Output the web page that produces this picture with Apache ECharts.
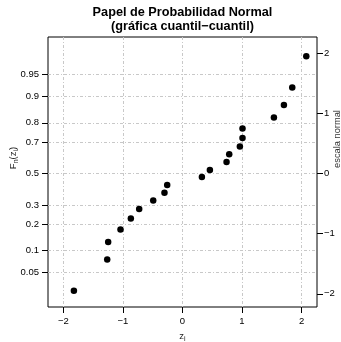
<!DOCTYPE html>
<html><head><meta charset="utf-8">
<script src="https://cdn.jsdelivr.net/npm/echarts@6/dist/echarts.min.js"></script>
<style>html,body{margin:0;padding:0;background:#fff}#c{width:341px;height:342px}</style>
</head><body><div id="c"></div>
<script>
const zValues = [-1.825, -1.265, -1.249, -1.042, -0.868, -0.728, -0.492, -0.303, -0.257, 0.326,
                 0.46, 0.74, 0.785, 0.964, 1.008, 1.008, 1.536, 1.704, 1.844, 2.08];
const normalScores = [-1.95, -1.43, -1.14, -0.93, -0.75, -0.59, -0.45, -0.32, -0.19, -0.06,
                      0.06, 0.19, 0.32, 0.45, 0.59, 0.75, 0.93, 1.14, 1.43, 1.95];
const probLabels = ['0.05', '0.1', '0.2', '0.3', '0.5', '0.7', '0.8', '0.9', '0.95'];
const probPositions = [-1.645, -1.282, -0.842, -0.524, 0, 0.524, 0.842, 1.282, 1.645];
const xTicks = [-2, -1, 0, 1, 2];
const rightTicks = [-2, -1, 0, 1, 2];

const FONT = "'Liberation Sans', Arial, Helvetica, sans-serif";
const fmtMinus = v => (v < 0 ? '\u2212' + (-v) : String(v));
const gridLine = { show: true, lineStyle: { color: '#c8c8c8', width: 1, type: [3, 2, 1, 2] } };

const chart = echarts.init(document.getElementById('c'), null, { renderer: 'canvas' });
chart.setOption({
  animation: false,
  backgroundColor: '#fff',
  grid: { left: 48, right: 24, top: 37, bottom: 35, show: true, borderColor: '#000', borderWidth: 1, backgroundColor: 'transparent' },
  xAxis: {
    type: 'value', min: -2.26, max: 2.26, position: 'bottom',
    axisLine: { show: false, onZero: false },
    axisTick: { show: true, length: 6, inside: false, customValues: xTicks, lineStyle: { color: '#000' } },
    axisLabel: { customValues: xTicks, formatter: fmtMinus, margin: 9, fontSize: 9.5, color: '#000', fontFamily: FONT },
    splitLine: gridLine
  },
  yAxis: [{
    type: 'value', position: 'left', min: -2.22, max: 2.27,
    axisLine: { show: false, onZero: false },
    axisTick: { show: true, length: 6, customValues: probPositions, lineStyle: { color: '#000' } },
    axisLabel: {
      customValues: probPositions, margin: 9, fontSize: 9.5, color: '#000', fontFamily: FONT,
      formatter: v => {
        let best = 0;
        probPositions.forEach((p, i) => { if (Math.abs(p - v) < Math.abs(probPositions[best] - v)) best = i; });
        return probLabels[best];
      }
    },
    splitLine: gridLine
  }, {
    type: 'value', position: 'right', min: -2.22, max: 2.27,
    axisLine: { show: false, onZero: false },
    axisTick: { show: true, length: 6, customValues: rightTicks, lineStyle: { color: '#000' } },
    axisLabel: { customValues: rightTicks, formatter: fmtMinus, margin: 7, fontSize: 9.5, color: '#000', fontFamily: FONT },
    splitLine: { show: false }
  }],
  series: [{
    type: 'scatter',
    data: zValues.map((z, i) => [z, normalScores[i]]),
    symbol: 'circle', symbolSize: 6.5,
    itemStyle: { color: '#000', opacity: 1 }
  }],
  graphic: [
    { type: 'text', x: 182.5, y: 6, style: { text: 'Papel de Probabilidad Normal', font: 'bold 12.7px ' + FONT, fill: '#000', align: 'center', verticalAlign: 'top' } },
    { type: 'text', x: 182.5, y: 20, style: { text: '(gráfica cuantil\u2212cuantil)', font: 'bold 12.7px ' + FONT, fill: '#000', align: 'center', verticalAlign: 'top' } },
    { type: 'text', x: 13, y: 158, rotation: Math.PI / 2,
      style: {
        text: '{a|F}{s|n}{a|(z}{s|i}{a|)}', align: 'center', verticalAlign: 'middle', fill: '#222',
        rich: {
          a: { fontSize: 9.5, fontFamily: FONT, lineHeight: 14, verticalAlign: 'middle', fill: '#222' },
          s: { fontSize: 7, fontFamily: FONT, lineHeight: 7, verticalAlign: 'bottom', fill: '#222' }
        }
      } },
    { type: 'text', x: 182.5, y: 336,
      style: {
        text: '{a|z}{s|i}', align: 'center', verticalAlign: 'middle', fill: '#222',
        rich: {
          a: { fontSize: 9.5, fontFamily: FONT, lineHeight: 14, verticalAlign: 'middle', fill: '#222' },
          s: { fontSize: 7, fontFamily: FONT, lineHeight: 7, verticalAlign: 'bottom', fill: '#222' }
        }
      } },
    { type: 'text', x: 337, y: 139, rotation: Math.PI / 2,
      style: { text: 'escala normal', font: '9.3px ' + FONT, fill: '#333', align: 'center', verticalAlign: 'middle' } }
  ]
});
</script>
</body></html>
